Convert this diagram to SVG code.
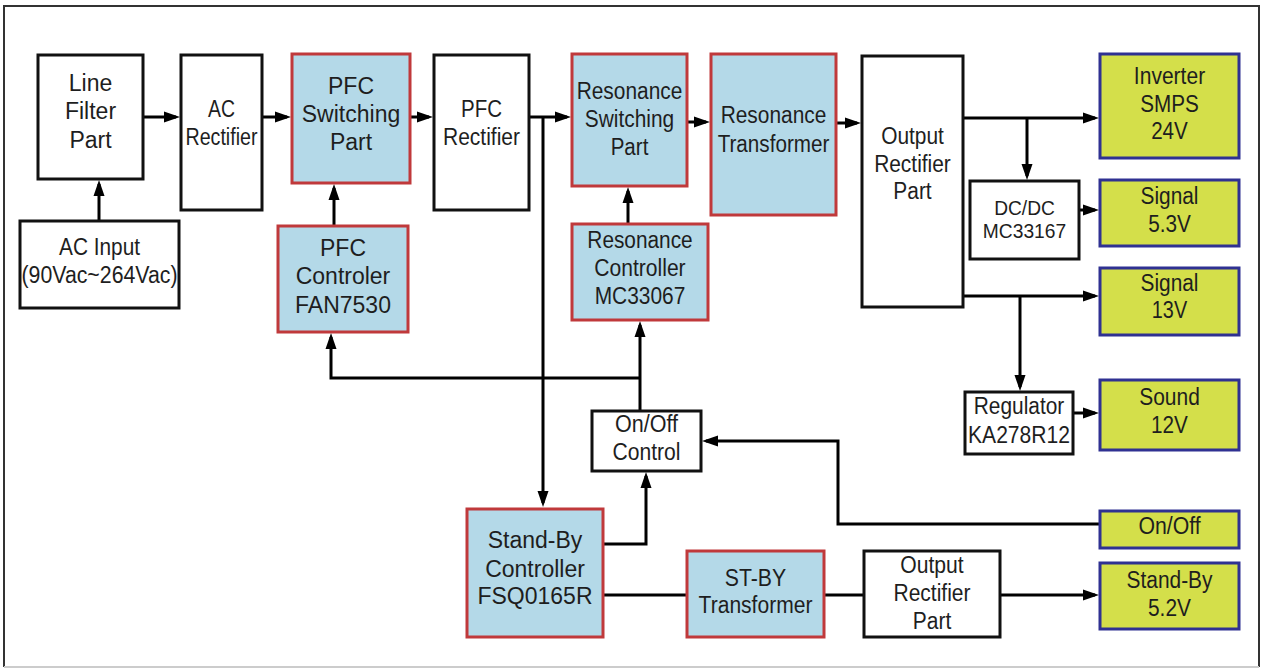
<svg xmlns="http://www.w3.org/2000/svg" width="1262" height="668" viewBox="0 0 1262 668">
<style>
text{font-family:"Liberation Sans",Arial,sans-serif;font-size:23px;fill:#1e1e1e;text-anchor:middle}
.w{fill:#fff;stroke:#111;stroke-width:3}
.b{fill:#b4d9e8;stroke:#c0393b;stroke-width:3}
.g{fill:#d4df4a;stroke:#2f3192;stroke-width:3}
.c{fill:none;stroke:#000;stroke-width:3}
.a{marker-end:url(#ah)}
</style>
<defs>
<marker id="ah" markerUnits="userSpaceOnUse" markerWidth="16" markerHeight="12" viewBox="0 0 16 12" refX="12" refY="6" orient="auto">
<path d="M0,0.5 L16,6 L0,11.5 Z" fill="#000"/>
</marker>
</defs>
<rect x="0" y="0" width="1262" height="668" fill="#fff"/>
<path d="M4,667 V6 H1259 V667" fill="none" stroke="#333" stroke-width="2"/>
<path d="M4,667 H1259" fill="none" stroke="#ccc" stroke-width="2"/>

<g id="connectors">
<path class="c a" d="M143,117 H176"/>
<path class="c a" d="M99,221 V184"/>
<path class="c a" d="M262,117 H287"/>
<path class="c a" d="M334,226 V188"/>
<path class="c a" d="M410,117 H429"/>
<path class="c a" d="M529,117 H567"/>
<path class="c a" d="M543,117 V503"/>
<path class="c a" d="M628,224 V191"/>
<path class="c a" d="M687,122 H706"/>
<path class="c a" d="M836,123 H857"/>
<path class="c a" d="M963,118 H1095"/>
<path class="c a" d="M1027,118 V176"/>
<path class="c a" d="M1079,210 H1095"/>
<path class="c a" d="M963,296 H1095"/>
<path class="c a" d="M1020,296 V387"/>
<path class="c a" d="M1073,413 H1095"/>
<path class="c a" d="M1100,524 H838 V441 H706"/>
<path class="c a" d="M640,411 V325"/>
<path class="c a" d="M640,378 H331 V337"/>
<path class="c a" d="M603,544 H646 V476"/>
<path class="c" d="M603,595 H687"/>
<path class="c" d="M824,595 H864"/>
<path class="c a" d="M1000,595 H1095"/>
</g>

<g id="line-filter"><rect class="w" x="38" y="55" width="105" height="124"/>
<text x="90.5" y="91">Line</text><text x="90.5" y="119">Filter</text><text x="90.5" y="148">Part</text></g>
<g id="ac-rectifier"><rect class="w" x="181" y="55" width="81" height="155"/>
<text x="221.5" y="117" textLength="27" lengthAdjust="spacingAndGlyphs">AC</text><text x="221.5" y="145" textLength="72" lengthAdjust="spacingAndGlyphs">Rectifier</text></g>
<g id="pfc-switching"><rect class="b" x="292" y="54" width="118" height="129"/>
<text x="351" y="94">PFC</text><text x="351" y="122">Switching</text><text x="351" y="150">Part</text></g>
<g id="ac-input"><rect class="w" x="20" y="221" width="159" height="87"/>
<text x="99.5" y="255" textLength="81" lengthAdjust="spacingAndGlyphs">AC Input</text><text x="99.5" y="283" textLength="156" lengthAdjust="spacingAndGlyphs">(90Vac~264Vac)</text></g>
<g id="pfc-controler"><rect class="b" x="278" y="226" width="130" height="106"/>
<text x="343" y="256">PFC</text><text x="343" y="284">Controler</text><text x="343" y="313">FAN7530</text></g>
<g id="pfc-rectifier"><rect class="w" x="434" y="55" width="95" height="155"/>
<text x="481.5" y="117" textLength="41" lengthAdjust="spacingAndGlyphs">PFC</text><text x="481.5" y="145" textLength="77" lengthAdjust="spacingAndGlyphs">Rectifier</text></g>
<g id="resonance-switching"><rect class="b" x="572" y="54" width="115" height="132"/>
<text x="629.5" y="99" textLength="105.7" lengthAdjust="spacingAndGlyphs">Resonance</text><text x="629.5" y="127" textLength="89.3" lengthAdjust="spacingAndGlyphs">Switching</text><text x="629.5" y="155" textLength="37.7" lengthAdjust="spacingAndGlyphs">Part</text></g>
<g id="resonance-transformer"><rect class="b" x="711" y="54" width="125" height="161"/>
<text x="773.5" y="123" textLength="105.7" lengthAdjust="spacingAndGlyphs">Resonance</text><text x="773.5" y="152" textLength="111.7" lengthAdjust="spacingAndGlyphs">Transformer</text></g>
<g id="resonance-controller"><rect class="b" x="572" y="224" width="136" height="96"/>
<text x="640" y="248" textLength="105.3" lengthAdjust="spacingAndGlyphs">Resonance</text><text x="640" y="276" textLength="91.3" lengthAdjust="spacingAndGlyphs">Controller</text><text x="640" y="304" textLength="90.7" lengthAdjust="spacingAndGlyphs">MC33067</text></g>
<g id="output-rectifier"><rect class="w" x="862" y="56" width="101" height="251"/>
<text x="912.5" y="144" textLength="62.7" lengthAdjust="spacingAndGlyphs">Output</text><text x="912.5" y="172" textLength="76.7" lengthAdjust="spacingAndGlyphs">Rectifier</text><text x="912.5" y="199" textLength="38.3" lengthAdjust="spacingAndGlyphs">Part</text></g>
<g id="inverter-smps"><rect class="g" x="1100" y="54" width="139" height="104"/>
<text x="1169.5" y="84" textLength="71.3" lengthAdjust="spacingAndGlyphs">Inverter</text><text x="1169.5" y="112" textLength="58.7" lengthAdjust="spacingAndGlyphs">SMPS</text><text x="1169.5" y="139" textLength="36.7" lengthAdjust="spacingAndGlyphs">24V</text></g>
<g id="dcdc"><rect class="w" x="970" y="181" width="109" height="78"/>
<text x="1024.5" y="215" style="font-size:20px" textLength="60.7" lengthAdjust="spacingAndGlyphs">DC/DC</text><text x="1024.5" y="238" style="font-size:20px" textLength="83.3" lengthAdjust="spacingAndGlyphs">MC33167</text></g>
<g id="signal-53"><rect class="g" x="1100" y="180" width="139" height="66"/>
<text x="1169.5" y="204" textLength="58" lengthAdjust="spacingAndGlyphs">Signal</text><text x="1169.5" y="232" textLength="42.7" lengthAdjust="spacingAndGlyphs">5.3V</text></g>
<g id="signal-13"><rect class="g" x="1100" y="268" width="139" height="67"/>
<text x="1169.5" y="291" textLength="58" lengthAdjust="spacingAndGlyphs">Signal</text><text x="1169.5" y="318" textLength="35.3" lengthAdjust="spacingAndGlyphs">13V</text></g>
<g id="regulator"><rect class="w" x="965" y="392" width="108" height="62"/>
<text x="1019" y="414" textLength="90.5" lengthAdjust="spacingAndGlyphs">Regulator</text><text x="1019" y="443" textLength="101.9" lengthAdjust="spacingAndGlyphs">KA278R12</text></g>
<g id="sound"><rect class="g" x="1100" y="380" width="139" height="70"/>
<text x="1169.5" y="405" textLength="60.6" lengthAdjust="spacingAndGlyphs">Sound</text><text x="1169.5" y="433" textLength="36.8" lengthAdjust="spacingAndGlyphs">12V</text></g>
<g id="onoff-control"><rect class="w" x="592" y="411" width="109" height="60"/>
<text x="646.5" y="432" textLength="63" lengthAdjust="spacingAndGlyphs">On/Off</text><text x="646.5" y="460" textLength="68" lengthAdjust="spacingAndGlyphs">Control</text></g>
<g id="onoff"><rect class="g" x="1100" y="511" width="139" height="37"/>
<text x="1169.5" y="534" textLength="62.2" lengthAdjust="spacingAndGlyphs">On/Off</text></g>
<g id="standby-controller"><rect class="b" x="467" y="509" width="136" height="128"/>
<text x="535" y="548">Stand-By</text><text x="535" y="577">Controller</text><text x="535" y="604">FSQ0165R</text></g>
<g id="stby-transformer"><rect class="b" x="687" y="551" width="137" height="86"/>
<text x="755.5" y="586" textLength="61.4" lengthAdjust="spacingAndGlyphs">ST-BY</text><text x="755.5" y="613" textLength="113.8" lengthAdjust="spacingAndGlyphs">Transformer</text></g>
<g id="output-rectifier-2"><rect class="w" x="864" y="551" width="136" height="86"/>
<text x="932" y="573" textLength="63.4" lengthAdjust="spacingAndGlyphs">Output</text><text x="932" y="601" textLength="77" lengthAdjust="spacingAndGlyphs">Rectifier</text><text x="932" y="629" textLength="38.5" lengthAdjust="spacingAndGlyphs">Part</text></g>
<g id="standby-52"><rect class="g" x="1100" y="563" width="139" height="66"/>
<text x="1169.5" y="588" textLength="86" lengthAdjust="spacingAndGlyphs">Stand-By</text><text x="1169.5" y="616" textLength="43" lengthAdjust="spacingAndGlyphs">5.2V</text></g>
</svg>
